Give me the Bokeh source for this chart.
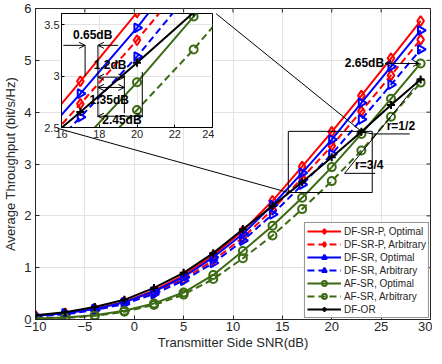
from bokeh.plotting import figure
from bokeh.layouts import column
from bokeh.models import (FixedTicker, Legend, LegendItem, Arrow, OpenHead,
                          Range1d)
from bokeh.embed import file_html
from bokeh.resources import INLINE
from bokeh.core.properties import value

# ---------------- data ----------------
snr = [-10, -7, -4, -1, 2, 5, 8, 11, 14, 17, 20, 23, 26, 29]
df_srp_opt = [0.07, 0.12, 0.21, 0.34, 0.56, 0.85, 1.24, 1.71, 2.29, 2.95, 3.62, 4.32, 5.04, 5.76]
df_srp_arb = [0.06, 0.11, 0.19, 0.31, 0.51, 0.78, 1.14, 1.58, 2.12, 2.73, 3.35, 4.02, 4.71, 5.40]
df_sr_opt = [0.07, 0.12, 0.20, 0.33, 0.54, 0.82, 1.20, 1.65, 2.21, 2.83, 3.47, 4.18, 4.88, 5.58]
df_sr_arb = [0.06, 0.10, 0.18, 0.30, 0.49, 0.75, 1.09, 1.52, 2.03, 2.60, 3.19, 3.86, 4.53, 5.21]
af_sr_opt = [0.02, 0.04, 0.08, 0.17, 0.31, 0.52, 0.86, 1.32, 1.81, 2.35, 2.94, 3.58, 4.26, 4.94]
af_sr_arb = [0.02, 0.03, 0.07, 0.15, 0.28, 0.48, 0.78, 1.18, 1.62, 2.13, 2.67, 3.26, 3.91, 4.57]
df_or = [0.08, 0.14, 0.24, 0.38, 0.61, 0.90, 1.28, 1.74, 2.19, 2.65, 3.13, 3.62, 4.14, 4.63]

labels = ["DF-SR-P, Optimal", "DF-SR-P, Arbitrary", "DF-SR, Optimal",
          "DF-SR, Arbitrary", "AF-SR, Optimal", "AF-SR, Arbitrary", "DF-OR"]
series = [df_srp_opt, df_srp_arb, df_sr_opt, df_sr_arb, af_sr_opt, af_sr_arb, df_or]

x_ticks = [-10, -5, 0, 5, 10, 15, 20, 25, 30]
y_ticks = [0, 1, 2, 3, 4, 5, 6]
inset_x_ticks = [16, 18, 20, 22, 24]
inset_y_ticks = [2.5, 3, 3.5]

# ---------------- styles ----------------
RED, BLUE, GREEN, BLACK = "#ff0000", "#0000ff", "#3b6a12", "#000000"
styles = [
    dict(color=RED, dash="solid", marker="diamond", size=10, angle=0.0),
    dict(color=RED, dash="7 4", marker="diamond", size=10, angle=0.0),
    dict(color=BLUE, dash="solid", marker="triangle", size=9, angle=-1.5708),
    dict(color=BLUE, dash="7 4", marker="triangle", size=9, angle=-1.5708),
    dict(color=GREEN, dash="solid", marker="circle", size=8, angle=0.0),
    dict(color=GREEN, dash="7 4", marker="circle", size=8, angle=0.0),
    dict(color=BLACK, dash="solid", marker="cross", size=8, angle=0.0),
]

FONT = "Liberation Sans"
AX = "#262626"
GRID = "#e3e3e3"


def draw_series(fig):
    items = []
    for lab, ys, st in zip(labels, series, styles):
        lr = fig.line(snr, ys, line_color=st["color"], line_width=2,
                      line_dash=st["dash"])
        sr = fig.scatter(snr, ys, marker=st["marker"], size=st["size"],
                         angle=st["angle"], line_color=st["color"],
                         line_width=2, fill_color=None)
        items.append(LegendItem(label=lab, renderers=[lr, sr]))
    return items


# ---------------- main figure ----------------
p = figure(width=432, height=352, x_range=Range1d(-10, 30), y_range=Range1d(0, 6),
           output_backend="svg", toolbar_location=None,
           min_border_left=30, min_border_right=2, min_border_top=8,
           min_border_bottom=4, outline_line_color=AX,
           background_fill_color="white")

for ax, ticks in ((p.xaxis[0], x_ticks), (p.yaxis[0], y_ticks)):
    ax.ticker = FixedTicker(ticks=ticks)
    ax.major_tick_in = 4
    ax.major_tick_out = 0
    ax.minor_tick_line_color = None
    ax.axis_line_color = AX
    ax.major_tick_line_color = AX
    ax.major_label_text_font = FONT
    ax.major_label_text_font_size = "13px"
    ax.major_label_text_color = AX
    ax.axis_label_text_font = FONT
    ax.axis_label_text_font_size = "13px"
    ax.axis_label_text_font_style = "normal"
    ax.axis_label_text_color = AX
p.xaxis.major_label_standoff = 2
p.yaxis.major_label_standoff = 4
p.xaxis.axis_label_standoff = 1
p.yaxis.axis_label_standoff = 3
p.xaxis.axis_label = "Transmitter Side SNR(dB)"
p.yaxis.axis_label = "Average Throughput (bit/s/Hz)"

p.xgrid.ticker = FixedTicker(ticks=x_ticks)
p.ygrid.ticker = FixedTicker(ticks=y_ticks)
p.grid.grid_line_color = GRID

# inward ticks on the top and right edges of the box (clipped to the frame)
p.scatter(x=x_ticks, y=[p.y_range.end] * len(x_ticks), marker="dash", size=8,
          angle=1.5708, line_color=AX, line_width=1)
p.scatter(x=[p.x_range.end] * len(y_ticks), y=y_ticks, marker="dash", size=8,
          line_color=AX, line_width=1)

items = draw_series(p)

# zoom rectangle and connectors (main data coordinates)
p.quad(left=[15.6], right=[24.1], bottom=[2.45], top=[3.63],
       fill_color=None, line_color="black", line_width=1)
p.segment(x0=[8.29, -7.79], y0=[5.90, 3.69], x1=[23.0, 15.6], y1=[3.63, 2.45],
          line_color="black", line_width=1)

# r = 1/2 and r = 3/4 leaders
p.multi_line(xs=[[23.0, 24.2, 27.9], [28.3, 21.3, 24.4]],
             ys=[[3.62, 3.58, 3.58], [4.46, 2.82, 2.82]],
             line_color="black", line_width=1)
p.text(x=[27.0, 23.8], y=[3.6, 2.84], text=["r=1/2", "r=3/4"],
       text_font=value(FONT), text_font_size="12px", text_font_style="bold",
       text_align="center", text_baseline="bottom", text_color="black")

# 2.65dB annotation
p.text(x=[25.3], y=[4.94], text=["2.65dB"], text_font=value(FONT),
       text_font_size="12px", text_font_style="bold", text_align="right",
       text_baseline="middle", text_color="black")
p.add_layout(Arrow(x_start=25.4, y_start=4.94, x_end=28.85, y_end=4.94,
                   start=OpenHead(size=6, line_width=1),
                   end=OpenHead(size=6, line_width=1), line_width=1))

legend = Legend(items=items, location="bottom_right", margin=1, padding=2,
                spacing=1, label_height=12, glyph_height=12, glyph_width=34,
                label_standoff=3, label_text_font=FONT,
                label_text_font_size="10px", label_text_color=AX,
                border_line_color=AX, border_line_width=1,
                background_fill_alpha=1.0)
p.add_layout(legend)

# ---------------- inset ----------------
inset = figure(width=188, height=132, x_range=Range1d(16, 24), y_range=Range1d(2.5, 3.61),
               output_backend="svg", toolbar_location=None,
               min_border_left=26, min_border_right=2, min_border_top=2,
               min_border_bottom=16, background_fill_color="white",
               border_fill_color=None, outline_line_color="black",
               styles={"position": "absolute", "left": "26px", "top": "11px",
                       "z-index": "5"})
for ax, ticks in ((inset.xaxis[0], inset_x_ticks), (inset.yaxis[0], inset_y_ticks)):
    ax.ticker = FixedTicker(ticks=ticks)
    ax.major_tick_in = 3
    ax.major_tick_out = 0
    ax.minor_tick_line_color = None
    ax.axis_line_color = "black"
    ax.major_tick_line_color = "black"
    ax.major_label_text_font = FONT
    ax.major_label_text_font_size = "11px"
    ax.major_label_text_color = AX
    ax.major_label_standoff = 2
inset.xgrid.ticker = FixedTicker(ticks=inset_x_ticks)
inset.ygrid.ticker = FixedTicker(ticks=inset_y_ticks)
inset.grid.grid_line_color = GRID

draw_series(inset)

# inset dimension annotations
inset.segment(x0=[17.25, 17.93, 19.33, 20.28], y0=[3.30, 3.30, 3.01, 3.04],
              x1=[17.25, 17.93, 19.33, 20.28], y1=[3.00, 2.60, 2.64, 2.60],
              line_color="black", line_width=1)
inset.add_layout(Arrow(x_start=16.1, y_start=3.30, x_end=17.25, y_end=3.30,
                       end=OpenHead(size=6, line_width=1), line_width=1))
inset.add_layout(Arrow(x_start=19.0, y_start=3.30, x_end=17.93, y_end=3.30,
                       end=OpenHead(size=6, line_width=1), line_width=1))
for yy, xe in ((2.99, 19.33), (2.89, 19.33), (2.61, 20.28)):
    inset.add_layout(Arrow(x_start=17.93, y_start=yy, x_end=xe, y_end=yy,
                           start=OpenHead(size=6, line_width=1),
                           end=OpenHead(size=6, line_width=1), line_width=1))
inset.text(x=[17.65, 18.58, 18.53, 19.2], y=[3.40, 3.11, 2.77, 2.57],
           text=["0.65dB", "1.2dB", "1.35dB", "2.45dB"], text_font=value(FONT),
           text_font_size="12px", text_font_style="bold", text_align="center",
           text_baseline="middle", text_color="black")

layout = column(p, inset, width=432, height=352,
                styles={"position": "relative"})

open("out.html", "w").write(file_html(layout, INLINE))
